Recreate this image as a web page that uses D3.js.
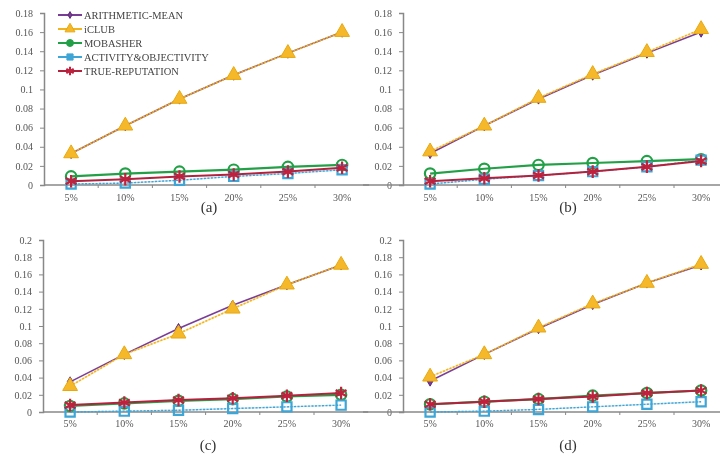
<!DOCTYPE html>
<html>
<head>
<meta charset="utf-8">
<script src="https://cdn.jsdelivr.net/npm/d3@7"></script>
<style>
  body { margin: 0; background: #fff; }
  svg { display: block; }
</style>
</head>
<body>
<svg id="chart" width="720" height="456"></svg>
<script>
// categories (x axis)
const categories = ["5%", "10%", "15%", "20%", "25%", "30%"];
const seriesNames = ["ARITHMETIC-MEAN", "iCLUB", "MOBASHER", "ACTIVITY&OBJECTIVITY", "TRUE-REPUTATION"];
const panelLabels = ["(a)", "(b)", "(c)", "(d)"];
const panelMax = [0.18, 0.18, 0.2, 0.2];

// panel (a)
const aArith = [0.033, 0.062, 0.090, 0.115, 0.138, 0.160];
const aIclub = [0.033, 0.062, 0.090, 0.115, 0.138, 0.160];
const aMob = [0.009, 0.012, 0.014, 0.016, 0.019, 0.021];
const aActiv = [0.001, 0.002, 0.005, 0.009, 0.012, 0.016];
const aTrue = [0.004, 0.006, 0.009, 0.011, 0.014, 0.018];
// panel (b)
const bArith = [0.033, 0.062, 0.090, 0.115, 0.138, 0.160];
const bIclub = [0.035, 0.062, 0.091, 0.116, 0.139, 0.163];
const bMob = [0.012, 0.017, 0.021, 0.023, 0.025, 0.027];
const bActiv = [0.001, 0.006, 0.010, 0.014, 0.019, 0.026];
const bTrue = [0.004, 0.007, 0.010, 0.014, 0.019, 0.025];
// panel (c)
const cArith = [0.035, 0.067, 0.097, 0.124, 0.148, 0.171];
const cIclub = [0.030, 0.067, 0.091, 0.120, 0.148, 0.171];
const cMob = [0.007, 0.010, 0.013, 0.015, 0.018, 0.020];
const cActiv = [0.000, 0.001, 0.002, 0.004, 0.006, 0.008];
const cTrue = [0.008, 0.011, 0.014, 0.016, 0.019, 0.022];
// panel (d)
const dArith = [0.036, 0.067, 0.097, 0.125, 0.150, 0.171];
const dIclub = [0.041, 0.067, 0.098, 0.126, 0.150, 0.172];
const dMob = [0.009, 0.012, 0.015, 0.019, 0.022, 0.025];
const dActiv = [0.000, 0.001, 0.003, 0.006, 0.009, 0.012];
const dTrue = [0.009, 0.012, 0.015, 0.018, 0.022, 0.025];

const panelData = [
  [aArith, aIclub, aMob, aActiv, aTrue],
  [bArith, bIclub, bMob, bActiv, bTrue],
  [cArith, cIclub, cMob, cActiv, cTrue],
  [dArith, dIclub, dMob, dActiv, dTrue]
];

const styles = [
  {color: "#7a3d96", width: 1.6, dash: null, symbol: d3.symbolDiamond, size: 30, fill: "#7a3d96", stroke: "#5d2a78"},
  {color: "#f2b41c", width: 1.6, dash: "2,1.5", symbol: d3.symbolTriangle, size: 95, fill: "#f5b82a", stroke: "#e8a810"},
  {color: "#23a047", width: 2.2, dash: null, symbol: d3.symbolCircle, size: 85, fill: "none", stroke: "#23a047"},
  {color: "#3ea6d6", width: 1.4, dash: "2,1.5", symbol: d3.symbolSquare, size: 85, fill: "none", stroke: "#3ea6d6"},
  {color: "#b3223e", width: 2, dash: null, symbol: d3.symbolAsterisk, size: 110, fill: "none", stroke: "#c0203c"}
];

const svg = d3.select("#chart");
const font = '"Liberation Serif", "DejaVu Serif", serif';

// soft look like the scanned figure
svg.append("defs").append("filter").attr("id", "soft")
  .append("feGaussianBlur").attr("stdDeviation", 0.4);
const root = svg.append("g").attr("filter", "url(#soft)");

// layout of the four panels
const layout = [
  {left: 44, top: 13, bottom: 185, labelY: 201, captionY: 212},
  {left: 403, top: 13, bottom: 185, labelY: 201, captionY: 212},
  {left: 43, top: 240, bottom: 412, labelY: 427, captionY: 450},
  {left: 403, top: 240, bottom: 412, labelY: 427, captionY: 450}
];
const bandW = 54.2;

layout.forEach((p, i) => {
  const g = root.append("g");
  const x = d3.scaleBand().domain(categories).range([p.left, p.left + bandW * 6]);
  const y = d3.scaleLinear().domain([0, panelMax[i]]).range([p.bottom, p.top]);
  const yTicks = d3.range(0, panelMax[i] + 0.001, 0.02);

  // y axis
  g.append("g")
    .attr("transform", "translate(" + p.left + ",0)")
    .call(d3.axisLeft(y).tickValues(yTicks).tickSize(4).tickPadding(7)
      .tickFormat(d => String(+d.toFixed(2))))
    .call(a => a.select(".domain").attr("stroke", "#888").attr("stroke-width", 1.5))
    .call(a => a.selectAll(".tick line").attr("stroke", "#888"))
    .call(a => a.selectAll(".tick text").style("font-size", "10px").style("font-family", font).attr("fill", "#555"));

  // x axis
  const xa = g.append("g").attr("transform", "translate(0," + p.bottom + ")");
  xa.append("line")
    .attr("x1", p.left - (i % 2 ? 40 : 0)).attr("x2", p.left + bandW * 6)
    .attr("stroke", "#888").attr("stroke-width", 1.5);
  xa.selectAll(".xt")
    .data(categories.slice(1))
    .enter().append("line")
    .attr("x1", d => x(d)).attr("x2", d => x(d))
    .attr("y1", 0).attr("y2", 3)
    .attr("stroke", "#888");
  xa.selectAll(".xl")
    .data(categories)
    .enter().append("text")
    .attr("x", d => x(d) + x.bandwidth() / 2)
    .attr("y", p.labelY - p.bottom)
    .attr("text-anchor", "middle")
    .style("font-family", font).style("font-size", "10px")
    .attr("fill", "#555")
    .text(d => d);

  // panel caption
  g.append("text")
    .attr("x", p.left + 165)
    .attr("y", p.captionY)
    .attr("text-anchor", "middle")
    .style("font-family", font).style("font-size", "15px")
    .attr("fill", "#333")
    .text(panelLabels[i]);

  // series
  const line = d3.line()
    .x((d, j) => x(categories[j]) + x.bandwidth() / 2)
    .y(d => y(d));

  panelData[i].forEach((vals, s) => {
    const st = styles[s];
    if (st.dash) {
      g.append("path").attr("d", line(vals)).attr("fill", "none")
        .attr("stroke", st.color).attr("stroke-width", st.width).attr("opacity", 0.35);
    }
    g.append("path")
      .attr("d", line(vals))
      .attr("fill", "none")
      .attr("stroke", st.color)
      .attr("stroke-width", st.width)
      .attr("stroke-dasharray", st.dash);
    g.selectAll(".m" + s)
      .data(vals)
      .enter().append("path")
      .attr("transform", (d, j) => "translate(" + (x(categories[j]) + x.bandwidth() / 2) + "," + y(d) + ")")
      .attr("d", d3.symbol().type(st.symbol).size(st.size))
      .attr("fill", st.fill)
      .attr("stroke", st.stroke)
      .attr("stroke-width", s >= 2 ? 2.2 : 1);
  });
});

// legend (panel a)
const legend = root.append("g");
seriesNames.forEach((name, s) => {
  const st = styles[s];
  const ly = 15 + s * 14;
  legend.append("line")
    .attr("x1", 58).attr("x2", 82).attr("y1", ly).attr("y2", ly)
    .attr("stroke", st.color).attr("stroke-width", 2);
  legend.append("path")
    .attr("transform", "translate(70," + ly + ")")
    .attr("d", d3.symbol().type(st.symbol).size(st.size * 0.45))
    .attr("fill", st.fill === "none" ? st.color : st.fill)
    .attr("stroke", st.stroke)
    .attr("stroke-width", s === 4 ? 2 : 1);
  legend.append("text")
    .attr("x", 84).attr("y", ly + 4)
    .style("font-family", font).style("font-size", "10.5px")
    .attr("fill", "#444")
    .text(name);
});
</script>
</body>
</html>
